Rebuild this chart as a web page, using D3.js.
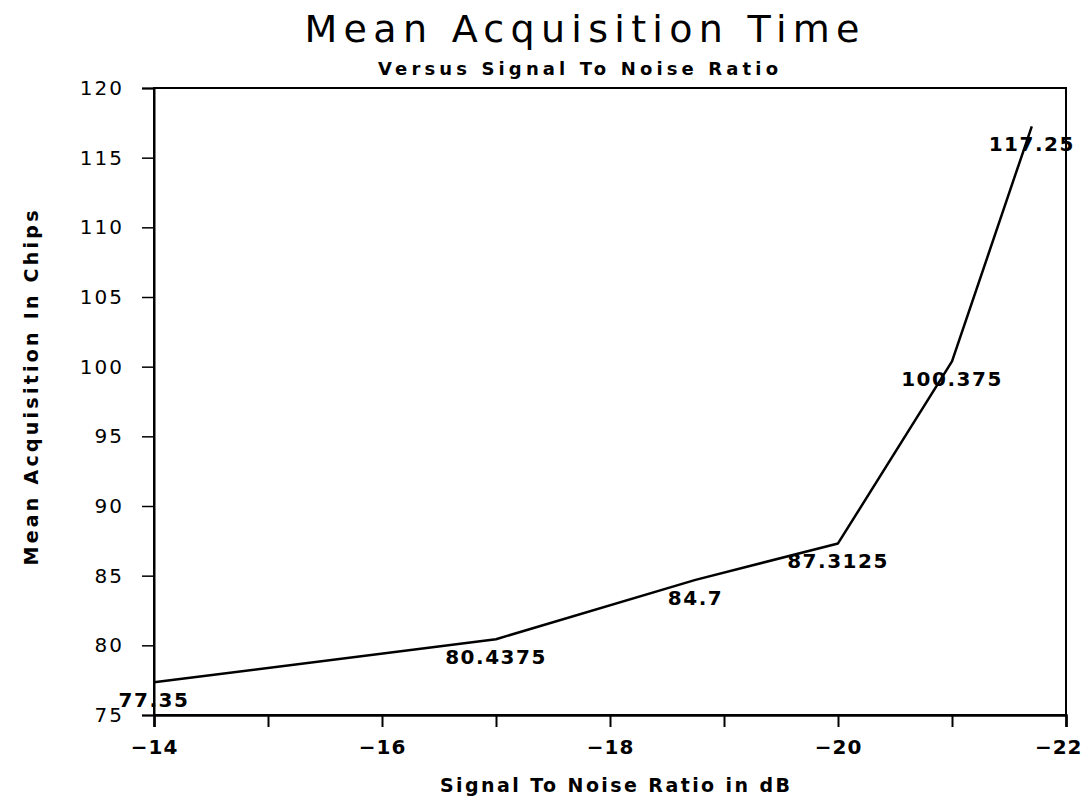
<!DOCTYPE html>
<html>
<head>
<meta charset="utf-8">
<script src="https://cdn.jsdelivr.net/npm/d3@7"></script>
<style>
  html, body { margin: 0; padding: 0; background: #fff; }
  svg { display: block; }
  text { font-family: "DejaVu Sans", "Liberation Sans", sans-serif; fill: #000; }
</style>
</head>
<body>
<svg id="chart" width="1090" height="803"></svg>
<script>
// ---- data ----
const snrValues = [-14, -17, -18.75, -20, -21, -21.7];
const acquisitionTimes = [77.35, 80.4375, 84.7, 87.3125, 100.375, 117.25];
const pointLabels = ["77.35", "80.4375", "84.7", "87.3125", "100.375", "117.25"];
const xTickValues = [-14, -15, -16, -17, -18, -19, -20, -21, -22];
const xTickLabels = {"-14": "−14", "-16": "−16", "-18": "−18", "-20": "−20", "-22": "−22"};
const yTickValues = [75, 80, 85, 90, 95, 100, 105, 110, 115, 120];

const titleText = "Mean Acquisition Time";
const subtitleText = "Versus Signal To Noise Ratio";
const xTitleText = "Signal To Noise Ratio in dB";
const yTitleText = "Mean Acquisition In Chips";

// ---- layout ----
const svg = d3.select("#chart");
const plotLeft = 154, plotRight = 1066, plotTop = 88, plotBottom = 715;

const x = d3.scaleLinear().domain([-14, -22]).range([plotLeft, plotRight]);
const y = d3.scaleLinear().domain([75, 120]).range([plotBottom, plotTop]);

// frame
svg.append("rect")
  .attr("x", plotLeft).attr("y", plotTop)
  .attr("width", plotRight - plotLeft).attr("height", plotBottom - plotTop)
  .attr("fill", "none").attr("stroke", "#000").attr("stroke-width", 2);

// x axis
const xAxis = d3.axisBottom(x)
  .tickValues(xTickValues)
  .tickSize(12)
  .tickPadding(12)
  .tickFormat(d => xTickLabels[String(d)] || "");
const gx = svg.append("g").attr("transform", `translate(0,${plotBottom})`).call(xAxis);
gx.select(".domain").attr("stroke-width", 2.5);
gx.selectAll(".tick line").attr("stroke-width", 2);
gx.selectAll(".tick text")
  .style("font-size", "20px").style("font-weight", "bold")
  .style("letter-spacing", "1px")
  .attr("dy", "0.75em")
  .filter(d => d === -22)
  .attr("text-anchor", "end")
  .attr("dx", 16);

// y axis
const yAxis = d3.axisLeft(y)
  .tickValues(yTickValues)
  .tickSize(12)
  .tickPadding(18)
  .tickFormat(d3.format("d"));
const gy = svg.append("g").attr("transform", `translate(${plotLeft},0)`).call(yAxis);
gy.select(".domain").attr("stroke-width", 2);
gy.selectAll(".tick line").attr("stroke-width", 1.5);
gy.selectAll(".tick text")
  .style("font-size", "20px")
  .style("letter-spacing", "2px");

// line
const pts = snrValues.map((v, i) => ({x: v, y: acquisitionTimes[i], label: pointLabels[i]}));
const line = d3.line().x(d => x(d.x)).y(d => y(d.y));
svg.append("path")
  .datum(pts)
  .attr("d", line)
  .attr("fill", "none")
  .attr("stroke", "#000")
  .attr("stroke-width", 2.5)
  .attr("stroke-linejoin", "round");

// point labels
svg.append("g").selectAll("text")
  .data(pts)
  .join("text")
  .attr("x", d => x(d.x))
  .attr("y", d => y(d.y) + 25)
  .attr("text-anchor", "middle")
  .style("font-size", "20px")
  .style("font-weight", "bold")
  .style("letter-spacing", "1.5px")
  .text(d => d.label);

// titles
svg.append("text")
  .attr("x", 582).attr("y", 42)
  .attr("text-anchor", "middle")
  .attr("textLength", 555).attr("lengthAdjust", "spacing")
  .style("font-size", "38px")
  .text(titleText);

svg.append("text")
  .attr("x", 578).attr("y", 75)
  .attr("text-anchor", "middle")
  .attr("textLength", 400).attr("lengthAdjust", "spacing")
  .style("font-size", "18px").style("font-weight", "bold")
  .text(subtitleText);

svg.append("text")
  .attr("x", 615).attr("y", 792)
  .attr("text-anchor", "middle")
  .attr("textLength", 350).attr("lengthAdjust", "spacing")
  .style("font-size", "19px").style("font-weight", "bold")
  .text(xTitleText);

svg.append("text")
  .attr("transform", "translate(38,388) rotate(-90)")
  .attr("text-anchor", "middle")
  .attr("textLength", 355).attr("lengthAdjust", "spacing")
  .style("font-size", "19px").style("font-weight", "bold")
  .text(yTitleText);
</script>
</body>
</html>
